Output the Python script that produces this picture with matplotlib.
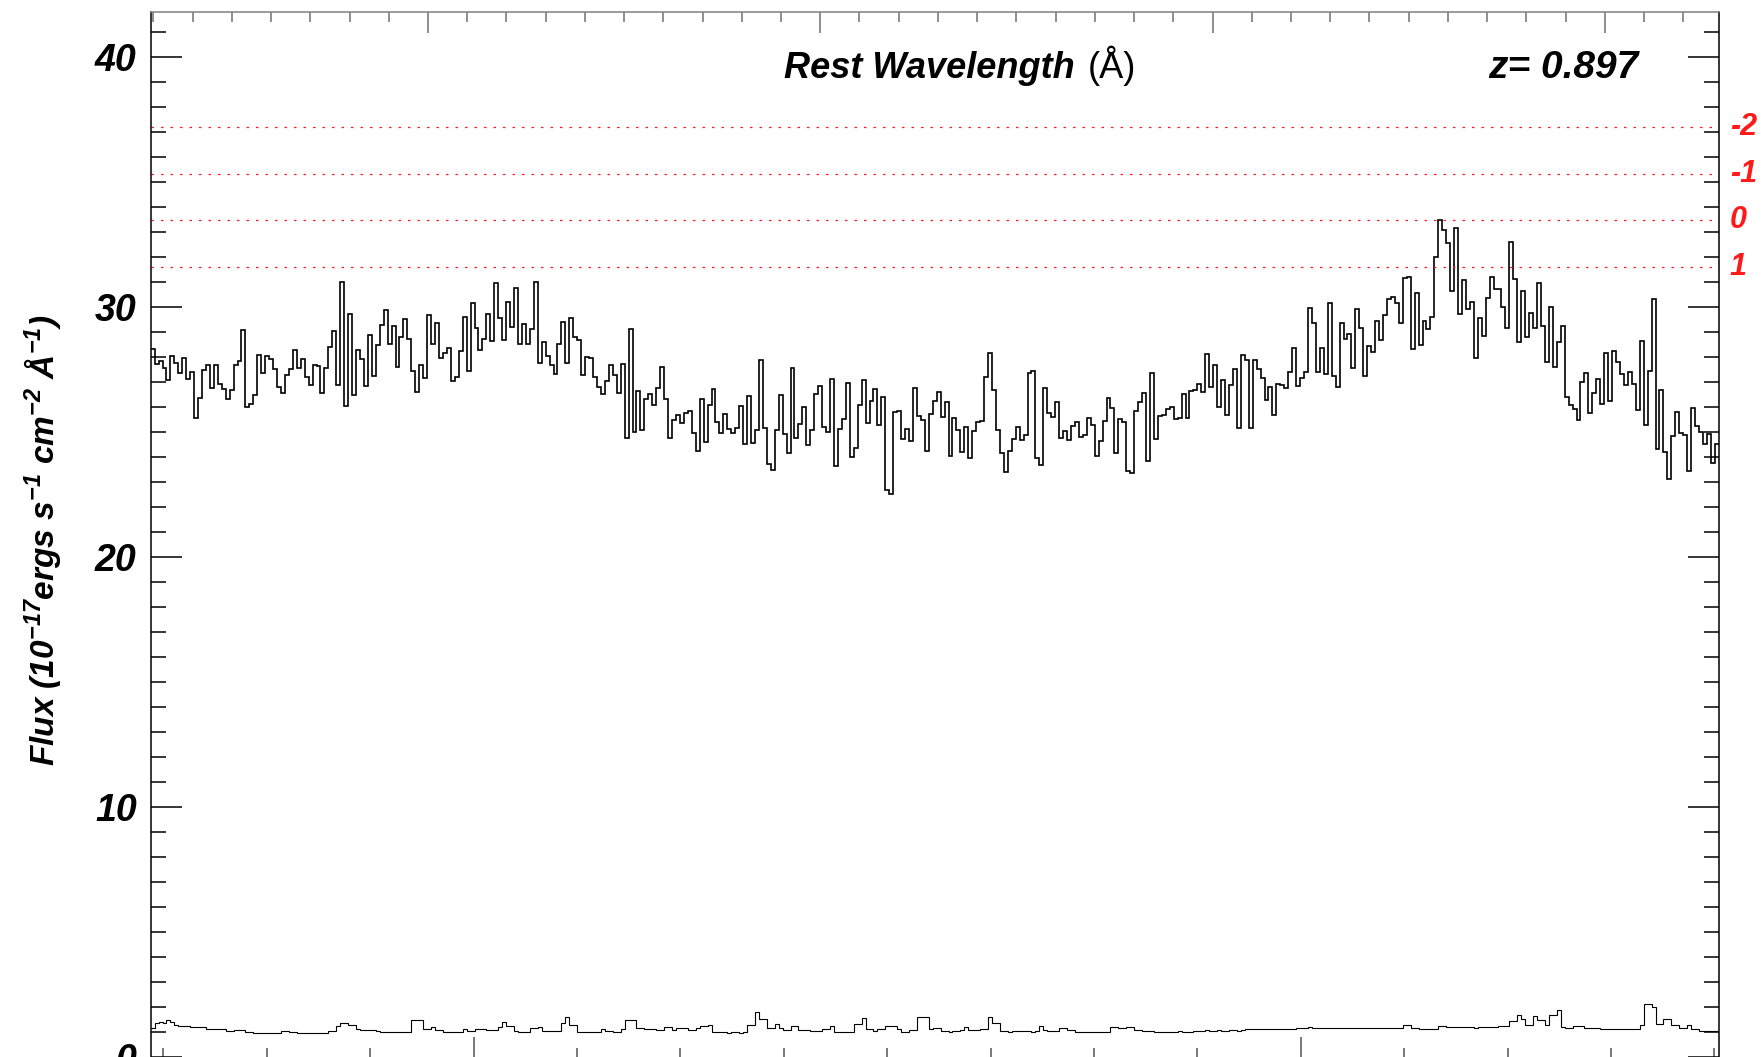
import numpy as np
import matplotlib
matplotlib.use("Agg")
import matplotlib.pyplot as plt
from matplotlib.ticker import MultipleLocator

plt.rcParams['font.family'] = ['Liberation Sans', 'DejaVu Sans']
plt.rcParams['font.weight'] = 'bold'
plt.rcParams['font.style'] = 'italic'
plt.rcParams['mathtext.fontset'] = 'custom'
plt.rcParams['mathtext.rm'] = 'Liberation Sans:bold:italic'
plt.rcParams['mathtext.it'] = 'Liberation Sans:bold:italic'
plt.rcParams['mathtext.bf'] = 'Liberation Sans:bold:italic'
plt.rcParams['mathtext.default'] = 'regular'

# --- data
redshift = 0.897
wave_start = 3849.6   # observed wavelength of first bin edge (A)
wave_step = 1.91      # bin width (A)
wave_range = (3849.6, 4608.0)

flux = [
    28.29, 27.72, 27.81, 27.53, 27.05, 28.02, 27.74, 27.34, 27.94,
    27.12, 27.38, 25.54, 26.34, 27.46, 27.68, 26.74, 27.68,
    26.89, 26.69, 26.30, 26.65, 27.65, 27.82, 29.05, 25.97, 26.12, 26.48,
    28.08, 27.33, 28.02, 27.89, 27.52, 26.78, 26.53, 27.25, 27.52, 28.26,
    27.56, 27.92, 27.20, 26.85, 27.66, 27.62, 26.56, 27.53, 28.38, 29.01,
    26.86, 30.97, 26.04, 29.70, 26.46, 28.26, 27.90, 26.81, 28.85, 27.21,
    28.46, 29.28, 29.85, 28.52, 29.21, 27.58, 28.77, 29.50, 28.69,
    27.42, 26.60, 27.68, 27.16, 29.65, 28.50, 29.33, 27.94, 28.16, 28.36,
    27.01, 27.18, 28.22, 29.60, 27.41, 30.16, 29.16, 28.26, 28.69,
    29.69, 28.64, 30.94, 29.54, 28.68, 30.17, 29.17, 30.74, 28.52, 29.30,
    28.50, 29.10, 31.00, 27.76, 28.59, 28.04, 27.65, 27.32,
    28.52, 29.38, 27.76, 29.56, 28.80, 28.68, 27.25, 27.98, 27.93, 27.20,
    26.80, 26.52, 27.02, 27.68, 27.28, 26.56, 27.70, 24.76, 29.09,
    25.00, 26.62, 25.05, 26.29, 26.49, 26.06, 26.76, 27.57, 26.32, 24.73,
    25.46, 25.66, 25.36, 25.76, 25.82, 24.96, 24.21,
    26.29, 24.58, 26.08, 26.69, 25.38, 24.93, 25.72, 25.12, 24.93,
    25.13, 26.02, 24.49, 26.44, 24.53, 25.06, 27.85, 25.16, 23.72, 23.46,
    25.06, 26.46, 24.92, 24.13, 27.54, 24.73, 25.30, 25.98, 24.48, 25.05,
    26.50, 26.81, 25.18, 24.98, 27.10, 23.62, 25.12, 25.49, 26.94,
    23.98, 24.36, 26.06, 27.06, 25.33, 26.22, 26.72, 25.25, 26.40, 22.66,
    22.53, 25.78, 25.82, 24.72, 25.09, 24.61, 26.74, 25.64, 25.46, 24.21,
    25.70, 26.21, 26.58, 25.60, 26.18, 24.04, 25.53, 25.06, 24.18, 25.18,
    23.97, 25.02, 25.40, 25.44, 27.20, 28.16, 26.66, 25.05, 24.16, 23.40,
    24.22, 24.72, 25.17, 24.66, 24.88, 27.36, 27.44, 23.97, 23.66, 26.76,
    25.76, 25.60, 26.18, 24.73, 25.04, 24.65, 25.22, 25.40, 24.78,
    24.88, 25.56, 25.25, 24.02, 24.63, 25.42, 26.34, 25.93, 24.13,
    25.49, 25.38, 23.44, 23.36, 25.81, 26.18, 26.56, 23.82, 27.36, 24.70,
    25.62, 25.68, 25.89, 25.97, 25.50, 25.54, 26.50, 25.56, 26.62,
    26.65, 26.90, 26.58, 28.09, 26.80, 27.66, 25.98, 27.08, 25.65, 26.86,
    27.49, 25.13, 28.06, 27.86,
    25.16, 27.86, 27.49, 27.13, 26.25, 26.77, 25.65, 26.89, 26.85, 26.73,
    27.38, 28.34, 26.84, 27.13, 27.38, 29.96, 29.36, 27.38, 28.34, 27.29,
    30.14, 27.24, 26.77, 29.36, 28.70, 28.89, 27.56, 29.89, 29.13, 27.22,
    28.44, 28.18, 29.44, 28.65, 29.65, 30.32, 30.38, 30.14, 29.34, 31.14,
    31.18, 28.29, 30.53, 28.46, 29.41, 29.09, 29.58, 31.98, 33.45, 33.06,
    32.54, 30.61, 33.16, 29.70, 31.06, 29.89, 30.18, 27.93, 29.56, 28.82,
    30.36, 31.20, 30.72, 30.72, 30.00, 29.13, 32.60, 31.10, 28.60, 30.62,
    28.78, 29.74, 29.13, 30.93, 29.22, 27.80, 30.00, 27.57, 28.60, 29.22,
    26.40, 26.08, 25.89, 25.46, 27.00, 27.34, 25.74, 26.54, 27.12, 26.12,
    28.14, 26.21, 28.22, 27.78, 27.32, 26.86, 27.40, 26.89, 25.88, 28.62,
    25.25, 27.41, 30.30, 24.32, 26.68, 24.20, 23.13, 24.84, 25.80, 24.96,
    24.86, 23.45, 25.94, 25.21, 24.98, 24.49, 24.89, 23.74, 24.52,
]

flux_err = [
    1.16, 1.36, 1.38, 1.36, 1.46, 1.40, 1.29, 1.25, 1.25, 1.23,
    1.20, 1.20, 1.19, 1.20, 1.12, 1.13, 1.12, 1.11, 1.12, 1.02,
    1.02, 1.09, 1.09, 1.08, 0.98, 0.98, 0.96, 0.96, 0.95, 0.96,
    0.96, 0.97, 0.96, 1.05, 1.05, 0.98, 0.98, 0.96, 0.96, 0.95,
    0.96, 0.96, 0.97, 0.96, 0.96, 1.02, 1.02, 1.22, 1.36, 1.36,
    1.29, 1.29, 1.12, 1.06, 1.06, 1.07, 1.06, 1.05, 1.00, 1.00,
    0.99, 1.00, 1.00, 1.01, 1.00, 1.00, 1.49, 1.49, 1.49, 1.12,
    1.12, 1.20, 1.06, 1.06, 1.00, 1.00, 0.99, 1.00, 1.00, 1.12,
    1.05, 1.05, 1.12, 1.12, 1.12, 1.09, 1.09, 1.09, 1.18, 1.38,
    1.22, 1.22, 1.05, 1.00, 1.00, 1.00, 1.16, 1.16, 1.20, 1.05,
    1.05, 1.02, 1.02, 1.02, 1.36, 1.60, 1.29, 1.29, 1.00, 1.00,
    1.00, 1.01, 1.00, 1.00, 1.13, 1.05, 1.05, 1.00, 1.00, 1.13,
    1.49, 1.49, 1.49, 1.16, 1.16, 1.12, 1.12, 1.12, 1.09, 1.09,
    1.20, 1.20, 1.09, 1.16, 1.16, 1.16, 1.09, 1.09, 1.16, 1.22,
    1.22, 1.29, 1.00, 1.00, 0.98, 0.98, 0.97, 0.98, 0.98, 0.97,
    0.98, 1.29, 1.29, 1.78, 1.52, 1.52, 1.16, 1.16, 1.33, 1.16,
    1.09, 1.09, 1.22, 1.22, 1.09, 1.09, 1.09, 1.02, 1.02, 1.02,
    1.13, 1.13, 1.22, 1.01, 1.01, 1.00, 1.01, 1.01, 1.33, 1.33,
    1.56, 1.12, 1.12, 1.05, 1.13, 1.13, 1.22, 1.22, 1.22, 1.12,
    0.98, 0.98, 1.09, 1.09, 1.58, 1.58, 1.58, 1.12, 1.16, 1.16,
    1.02, 1.02, 1.01, 1.02, 1.02, 1.09, 1.18, 1.09, 1.09, 1.09,
    1.12, 1.12, 1.60, 1.36, 1.36, 1.02, 1.02, 1.01, 1.02, 1.02,
    1.03, 1.02, 1.02, 1.01, 1.02, 1.25, 1.09, 1.02, 1.02, 1.02,
    1.16, 1.16, 1.09, 1.09, 1.00, 1.00, 1.00, 1.01, 1.00, 1.00,
    1.00, 1.01, 1.00, 1.18, 1.18, 1.16, 1.16, 1.20, 1.20, 1.09,
    1.09, 1.05, 1.05, 1.05, 1.00, 1.00, 1.01, 1.00, 1.00, 1.01,
    1.02, 1.01, 1.00, 1.01, 1.04, 1.05, 1.05, 1.06, 1.05, 1.05,
    1.06, 1.05, 1.05, 1.06, 1.06, 1.05, 1.07, 1.10, 1.12, 1.11,
    1.12, 1.12, 1.13, 1.12, 1.12, 1.13, 1.12, 1.12, 1.13, 1.12,
    1.17, 1.16, 1.17, 1.18, 1.17, 1.16, 1.17, 1.17, 1.16, 1.17,
    1.17, 1.16, 1.17, 1.16, 1.16, 1.15, 1.16, 1.16, 1.16, 1.17,
    1.16, 1.16, 1.16, 1.16, 1.17, 1.16, 1.16, 1.28, 1.28, 1.16,
    1.16, 1.12, 1.12, 1.12, 1.12, 1.12, 1.22, 1.22, 1.18, 1.18,
    1.18, 1.19, 1.18, 1.18, 1.18, 1.17, 1.18, 1.18, 1.18, 1.18,
    1.18, 1.22, 1.22, 1.22, 1.42, 1.42, 1.66, 1.52, 1.29, 1.29,
    1.62, 1.49, 1.49, 1.29, 1.69, 1.69, 1.89, 1.20, 1.16, 1.16,
    1.25, 1.25, 1.25, 1.16, 1.16, 1.16, 1.16, 1.13, 1.13, 1.13,
    1.13, 1.12, 1.13, 1.13, 1.13, 1.13, 1.13, 1.29, 2.13, 2.13,
    1.99, 1.33, 1.33, 1.53, 1.53, 1.29, 1.29, 1.16, 1.16, 1.29,
    1.13, 1.13, 1.05, 1.05, 1.05, 1.05, 1.05,
]

sigma_levels = [37.18, 35.32, 33.46, 31.60]
sigma_labels = ['-2', '-1', '0', '1']

edges = wave_start + wave_step * np.arange(len(flux) + 1)

# --- figure
fig = plt.figure(figsize=(17.62, 10.57), dpi=100)
ax = fig.add_axes([0.0855, -0.00095, 0.8901, 0.9896])

ax.stairs(flux, edges, baseline=None, color='black', lw=1.2)
ax.stairs(flux_err, edges, baseline=None, color='black', lw=0.8)

for lev in sigma_levels:
    ax.axhline(lev, color='#ff1a1a', lw=0.9, linestyle=(0, (2.0, 5.6)))
for lev, lab in zip(sigma_levels, sigma_labels):
    ax.text(1.007, lev, lab, transform=ax.get_yaxis_transform(), color='#ff1a1a',
            fontsize=22, ha='left', va='center')

ax.set_xlim(*wave_range)
ax.set_ylim(-0.05, 41.79)

# top axis in rest wavelength
ax2 = ax.twiny()
ax2.set_xlim(wave_range[0] / (1 + redshift), wave_range[1] / (1 + redshift))
ax2.xaxis.set_major_locator(MultipleLocator(100))
ax2.xaxis.set_minor_locator(MultipleLocator(10))
ax2.tick_params(axis='x', which='both', direction='in', labeltop=False,
                color='#707070', width=1.1)
ax2.tick_params(axis='x', which='major', length=15)
ax2.tick_params(axis='x', which='minor', length=7.2)
for s in ['left', 'right', 'bottom']:
    ax2.spines[s].set_visible(False)
ax2.spines['top'].set_color('#808080')
ax2.spines['top'].set_linewidth(1.1)

# bottom axis (observed wavelength)
ax.xaxis.set_major_locator(MultipleLocator(400, offset=5.8))
ax.xaxis.set_minor_locator(MultipleLocator(50, offset=5.8))
ax.tick_params(axis='x', which='both', direction='in', bottom=True, top=False,
               labelbottom=False, color='#555555', width=1.1)
ax.tick_params(axis='x', which='major', length=15)
ax.tick_params(axis='x', which='minor', length=7.2)

ax.yaxis.set_major_locator(MultipleLocator(10))
ax.yaxis.set_minor_locator(MultipleLocator(1))
ax.tick_params(axis='y', which='both', direction='in', left=True, right=True,
               width=1.1, color='black')
ax.tick_params(axis='y', which='major', length=22.3, labelsize=27, pad=10)
ax.tick_params(axis='y', which='minor', length=10.8)
ax.spines['top'].set_visible(False)
for s in ['left', 'right', 'bottom']:
    ax.spines[s].set_linewidth(1.1)

fig.text(43 / 1762, 1 - 540 / 1057,
         'Flux (10$^{-17}$ergs s$^{-1}$ cm$^{-2}$ Å$^{-1}$)',
         rotation=90, fontsize=24, ha='center', va='center')
fig.text(783.7 / 1762, 1 - 78.3 / 1057, 'Rest Wavelength', fontsize=26,
         ha='left', va='baseline')
fig.text(1088 / 1762, 1 - 78.3 / 1057, '(Å)', fontsize=26, fontweight='normal',
         fontstyle='normal', ha='left', va='baseline')
fig.text(1488.5 / 1762, 1 - 78.3 / 1057, 'z= 0.897', fontsize=28,
         ha='left', va='baseline')

fig.savefig('out.png', dpi=100)
